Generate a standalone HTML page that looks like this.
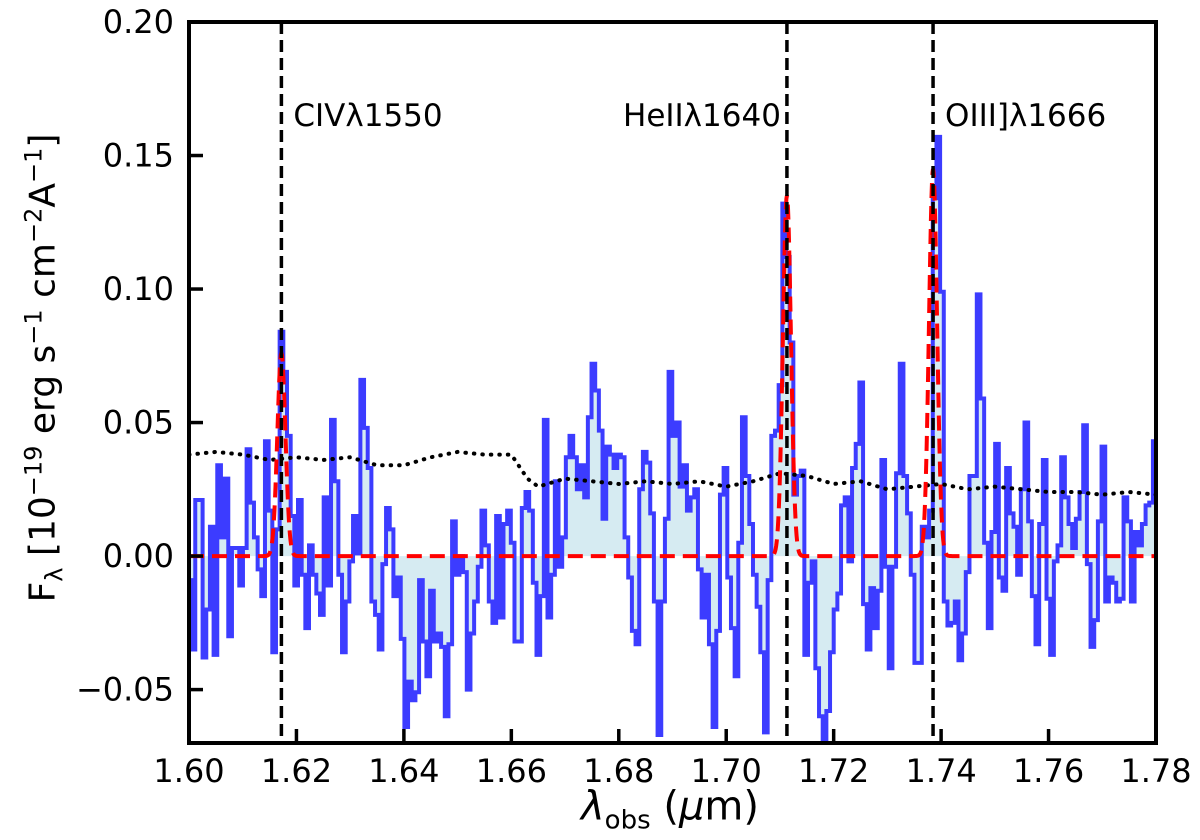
<!DOCTYPE html>
<html><head><meta charset="utf-8"><style>
html,body{margin:0;padding:0;background:#fff;}
svg{display:block;font-family:"DejaVu Sans","Liberation Sans",sans-serif;}
</style></head><body>
<svg id="chart" width="1200" height="840" viewBox="0 0 1200 840" xmlns="http://www.w3.org/2000/svg">
<defs><clipPath id="clip"><rect x="189" y="22" width="967" height="721"/></clipPath></defs>
<g id="plot" clip-path="url(#clip)"></g>
<g id="axes"></g>
</svg>
<script>
// ---- data ----
const binStart = 1.59775;
const binWidth = 0.000683;
const flux = [
0.013,-0.032,-0.003,-0.009,-0.035,0.021,0.021,-0.038,-0.020,0.011,
-0.037,0.034,0.007,0.029,-0.030,0.003,0.003,-0.011,0.003,0.040,
0.020,0.007,-0.005,-0.015,0.043,0.017,-0.036,0.010,0.084,0.069,
0.045,0.015,-0.011,0.021,-0.007,-0.027,0.004,-0.007,-0.014,-0.022,
0.022,-0.011,0.051,0.028,-0.007,-0.036,-0.017,-0.002,0.015,0.001,
0.066,0.048,0.033,-0.017,-0.022,-0.035,-0.003,0.018,0.010,-0.015,
-0.008,-0.031,-0.064,-0.047,-0.054,-0.051,-0.009,-0.032,-0.045,-0.013,
-0.032,-0.029,-0.034,-0.060,-0.033,0.013,-0.007,0.000,-0.006,-0.050,
-0.029,-0.017,-0.004,0.017,0.004,-0.017,-0.025,0.015,-0.023,0.012,
0.017,0.005,-0.032,-0.032,0.018,0.024,0.017,-0.010,-0.037,-0.015,
0.051,-0.023,-0.007,0.028,-0.004,0.007,0.037,0.045,0.037,0.025,
0.034,0.022,0.052,0.072,0.062,0.047,0.014,0.041,0.038,0.033,
0.038,0.037,0.007,-0.008,-0.028,-0.033,0.025,0.039,0.035,0.016,
-0.017,-0.067,-0.017,0.014,0.069,0.045,0.050,0.026,0.034,0.017,
0.022,0.025,-0.005,-0.023,-0.007,-0.033,-0.064,-0.028,0.023,0.033,
-0.008,-0.027,-0.045,0.005,0.052,0.030,0.012,-0.007,-0.019,-0.036,
-0.066,-0.009,0.045,0.047,0.064,0.132,0.112,0.080,0.023,0.030,
0.032,-0.037,-0.010,-0.002,-0.042,-0.060,-0.075,-0.058,-0.036,-0.020,
-0.014,0.019,0.022,-0.002,0.033,0.042,0.065,-0.018,-0.035,-0.012,
-0.027,-0.013,0.036,-0.004,-0.042,-0.004,0.031,0.072,0.030,0.016,
-0.007,-0.040,-0.040,0.011,0.007,0.017,0.134,0.157,0.099,-0.017,
-0.026,-0.025,-0.017,-0.039,-0.029,-0.006,0.030,0.030,0.098,0.059,
0.005,-0.027,0.009,0.042,-0.008,-0.013,0.033,0.016,0.011,-0.007,
0.025,0.050,0.013,-0.015,-0.033,0.012,0.036,-0.016,-0.037,-0.002,
0.004,0.037,0.022,0.012,0.003,0.014,0.024,0.049,-0.003,-0.034,
-0.024,0.013,0.041,-0.017,-0.008,-0.010,-0.017,-0.016,0.022,0.013,
-0.017,0.009,0.004,0.012,0.019,0.020,0.043,0.004,-0.012,0.014,0.006
];
const errWave = [1.600,1.605,1.610,1.615,1.620,1.625,1.630,1.635,1.640,1.645,1.650,1.655,1.660,1.663,1.665,1.670,1.675,1.680,1.685,1.690,1.695,1.700,1.705,1.710,1.715,1.720,1.725,1.730,1.735,1.740,1.745,1.750,1.755,1.760,1.765,1.770,1.775,1.780];
const errVal  = [0.038,0.039,0.038,0.036,0.037,0.036,0.037,0.034,0.034,0.037,0.039,0.038,0.038,0.029,0.026,0.029,0.028,0.027,0.028,0.027,0.028,0.026,0.028,0.031,0.030,0.027,0.028,0.025,0.026,0.027,0.025,0.026,0.025,0.024,0.024,0.023,0.024,0.023];
const lineNames = ["CIV\u03bb1550","HeII\u03bb1640","OIII]\u03bb1666"];
const lineWave  = [1.6172, 1.7113, 1.7385];
const lineAmp   = [0.076, 0.135, 0.145];
const lineSigma = [0.00075, 0.00075, 0.00075];
const xTicks = [1.60,1.62,1.64,1.66,1.68,1.70,1.72,1.74,1.76,1.78];
const yTicks = [-0.05,0.00,0.05,0.10,0.15,0.20];

// ---- scales ----
const X0=189, X1=1156, Y0=743, Y1=22;
const xmin=1.60, xmax=1.78, ymin=-0.07, ymax=0.20;
const sx = v => X0 + (v-xmin)/(xmax-xmin)*(X1-X0);
const sy = v => Y0 - (v-ymin)/(ymax-ymin)*(Y0-Y1);
const NS="http://www.w3.org/2000/svg";
const plot=document.getElementById('plot'), axes=document.getElementById('axes');
function mk(tag, attrs, parent){const e=document.createElementNS(NS,tag);for(const k in attrs)e.setAttribute(k,attrs[k]);parent.appendChild(e);return e;}

let d='';
const y0=sy(0);
flux.forEach((f,i)=>{
  const xa=sx(binStart+i*binWidth), xb=sx(binStart+(i+1)*binWidth), y=sy(f);
  d += (i===0?'M':'L')+xa.toFixed(2)+','+y.toFixed(2)+'L'+xb.toFixed(2)+','+y.toFixed(2);
});
const fd = 'M'+sx(binStart).toFixed(2)+','+y0.toFixed(2)+d.replace(/^M/,'L')+'L'+sx(binStart+flux.length*binWidth).toFixed(2)+','+y0.toFixed(2)+'Z';
const fill=mk('path',{d:fd,fill:'#add8e6','fill-opacity':'0.5',stroke:'none'},plot);


const step=mk('path',{d:d,fill:'none',stroke:'#3c3cff','stroke-width':'4','stroke-linejoin':'miter'},plot);



let ed='';
errWave.forEach((w,i)=>{ed+=(i?'L':'M')+sx(w).toFixed(2)+','+sy(errVal[i]).toFixed(2);});
const err=mk('path',{d:ed,fill:'none',stroke:'#000','stroke-width':'4','stroke-dasharray':'0.5 8','stroke-linecap':'round'},plot);



let md='';
for(let k=0;k<=1800;k++){
  const w=xmin+k*(xmax-xmin)/1800;
  let m=0;
  for(let j=0;j<lineWave.length;j++){m+=lineAmp[j]*Math.exp(-0.5*Math.pow((w-lineWave[j])/lineSigma[j],2));}
  md+=(k?'L':'M')+sx(w).toFixed(2)+','+sy(m).toFixed(2);
}
const model=mk('path',{d:md,fill:'none',stroke:'#ff0000','stroke-width':'4','stroke-dasharray':'15 8'},plot);



lineWave.forEach((w,j)=>{
  const l=mk('line',{x1:sx(w),x2:sx(w),y1:Y1,y2:Y0,stroke:'#000','stroke-width':'3.5','stroke-dasharray':'12 6'},plot);
  
  
  const anchorRight = (j===1);
  const t=mk('text',{x: anchorRight? sx(w)-6 : sx(w)+12, y:126,'font-size':'31','text-anchor':anchorRight?'end':'start',fill:'#000'},axes);
  t.textContent=lineNames[j];
  
  
});

const sp=mk('rect',{x:X0,y:Y1,width:X1-X0,height:Y0-Y1,fill:'none',stroke:'#000','stroke-width':'4'},axes);



xTicks.forEach(v=>{
  const x=sx(v);
  const tk=mk('line',{x1:x,x2:x,y1:Y0,y2:Y0-14,stroke:'#000','stroke-width':'3.5'},axes);
  
  
  const t=mk('text',{x:x,y:Y0+39,'font-size':'32','text-anchor':'middle'},axes);
  t.textContent=v.toFixed(2);
  
  
});
yTicks.forEach(v=>{
  const y=sy(v);
  const tk=mk('line',{x1:X0,x2:X0+14,y1:y,y2:y,stroke:'#000','stroke-width':'3.5'},axes);
  
  
  const t=mk('text',{x:X0-15,y:y+11,'font-size':'32','text-anchor':'end'},axes);
  t.textContent=(v<0?'\u2212':'')+Math.abs(v).toFixed(2);
  
  
});
</script>
<div style="position:absolute;left:44px;top:368px;transform:translate(-50%,-50%) rotate(-90deg);white-space:nowrap;font-family:'DejaVu Sans','Liberation Sans',sans-serif;font-size:36px;line-height:1;">F<sub style="font-size:24px">λ</sub> [10<sup style="font-size:24px">−19</sup> erg s<sup style="font-size:24px">−1</sup> cm<sup style="font-size:24px">−2</sup>A<sup style="font-size:24px">−1</sup>]</div>
<div style="position:absolute;left:670px;top:810px;transform:translate(-50%,-50%);white-space:nowrap;font-family:'DejaVu Sans','Liberation Sans',sans-serif;font-size:40px;line-height:1;"><i>λ</i><sub style="font-size:26px">obs</sub> (<i>μ</i>m)</div>
</body></html>
